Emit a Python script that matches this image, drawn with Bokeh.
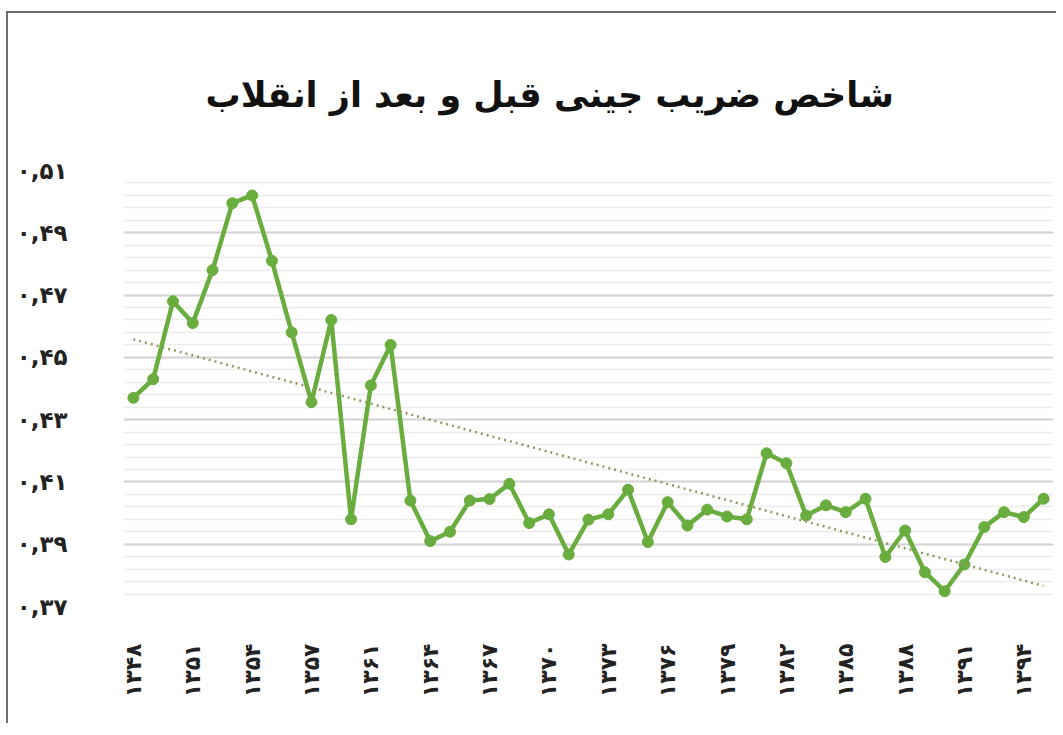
import numpy as np
from bokeh.plotting import figure
from bokeh.models import FixedTicker, ColumnDataSource
from bokeh.embed import file_html
from bokeh.resources import INLINE
from math import pi

title_text = "شاخص ضریب جینی قبل و بعد از انقلاب"

years = ["۱۳۴۸", "۱۳۴۹", "۱۳۵۰", "۱۳۵۱", "۱۳۵۲", "۱۳۵۳", "۱۳۵۴", "۱۳۵۵", "۱۳۵۶", "۱۳۵۷",
         "۱۳۵۹", "۱۳۶۰", "۱۳۶۱", "۱۳۶۲", "۱۳۶۳", "۱۳۶۴", "۱۳۶۵", "۱۳۶۶", "۱۳۶۷", "۱۳۶۸",
         "۱۳۶۹", "۱۳۷۰", "۱۳۷۱", "۱۳۷۲", "۱۳۷۳", "۱۳۷۴", "۱۳۷۵", "۱۳۷۶", "۱۳۷۷", "۱۳۷۸",
         "۱۳۷۹", "۱۳۸۰", "۱۳۸۱", "۱۳۸۲", "۱۳۸۳", "۱۳۸۴", "۱۳۸۵", "۱۳۸۶", "۱۳۸۷", "۱۳۸۸",
         "۱۳۸۹", "۱۳۹۰", "۱۳۹۱", "۱۳۹۲", "۱۳۹۳", "۱۳۹۴", "۱۳۹۵"]

gini = [0.437, 0.443, 0.468, 0.461, 0.478, 0.4995, 0.502, 0.481, 0.458, 0.4356,
        0.462, 0.398, 0.441, 0.454, 0.404, 0.391, 0.394, 0.404, 0.4045, 0.4094,
        0.3968, 0.3996, 0.3867, 0.3979, 0.3996, 0.4075, 0.3907, 0.4035, 0.396, 0.4011,
        0.3989, 0.398, 0.4192, 0.416, 0.3992, 0.4025, 0.4003, 0.4046, 0.3859, 0.3944,
        0.381, 0.3749, 0.3835, 0.3955, 0.4003, 0.3987, 0.4046]

y_ticks = [0.37, 0.39, 0.41, 0.43, 0.45, 0.47, 0.49, 0.51]
y_tick_labels = ["۰,۳۷", "۰,۳۹", "۰,۴۱", "۰,۴۳", "۰,۴۵", "۰,۴۷", "۰,۴۹", "۰,۵۱"]

idx = list(range(len(gini)))
src = ColumnDataSource(dict(x=idx, y=gini, year=years))

# linear trendline (least squares) from the data
slope, intercept = np.polyfit(idx, gini, 1)
trend_x = [idx[0], idx[-1]]
trend_y = [intercept + slope * idx[0], intercept + slope * idx[-1]]

FONT = "DejaVu Sans"

p = figure(width=1050, height=712, x_range=(-0.5, len(gini) - 0.5), y_range=(0.37, 0.51),
           output_backend="svg", toolbar_location=None,
           min_border_left=115, min_border_right=5, min_border_top=157, min_border_bottom=119)
p.styles = {"border-top": "2px solid #6f6f6f", "border-left": "2px solid #6f6f6f",
            "position": "relative", "left": "6px", "top": "11px"}

p.title.text = title_text
p.title.align = "left"
p.title.offset = 82
p.title.text_font = FONT
p.title.text_font_size = "35px"
p.title.text_font_style = "bold"
p.title.text_color = "#111111"
p.title.standoff = 111

p.outline_line_color = None
p.background_fill_color = "white"
p.border_fill_color = "white"

# y axis
yt = FixedTicker(ticks=y_ticks, minor_ticks=list(np.round(np.arange(0.37, 0.5101, 0.004), 4)))
p.yaxis.ticker = yt
p.yaxis.major_label_overrides = {t: l for t, l in zip(y_ticks, y_tick_labels)}
p.yaxis.axis_line_color = None
p.yaxis.major_tick_line_color = None
p.yaxis.minor_tick_line_color = None
p.yaxis.major_label_text_font = FONT
p.yaxis.major_label_text_font_size = "23px"
p.yaxis.major_label_text_font_style = "bold"
p.yaxis.major_label_text_color = "#222222"
p.yaxis.major_label_standoff = 50

p.ygrid.ticker = yt
p.ygrid.grid_line_color = "#d4d4d4"
p.ygrid.grid_line_width = 2
p.ygrid.minor_grid_line_color = "#ececec"
p.ygrid.minor_grid_line_width = 1.5
p.xgrid.grid_line_color = None

# x axis
x_ticks = list(range(0, len(years), 3))
p.xaxis.ticker = FixedTicker(ticks=x_ticks)
p.xaxis.major_label_overrides = {i: years[i] for i in x_ticks}
p.xaxis.major_label_orientation = pi / 2
p.xaxis.axis_line_color = None
p.xaxis.major_tick_line_color = None
p.xaxis.minor_tick_line_color = None
p.xaxis.major_label_text_font = FONT
p.xaxis.major_label_text_font_size = "22px"
p.xaxis.major_label_text_font_style = "bold"
p.xaxis.major_label_text_color = "#222222"
p.xaxis.major_label_standoff = 31

green = "#6aad3f"
p.line("x", "y", source=src, line_color=green, line_width=4.5)
p.scatter("x", "y", source=src, size=11, fill_color=green, line_color=green)
p.line(trend_x, trend_y, line_color="#8f9a62", line_width=2.5, line_dash="2 4")

open("out.html", "w").write(file_html(p, INLINE))
